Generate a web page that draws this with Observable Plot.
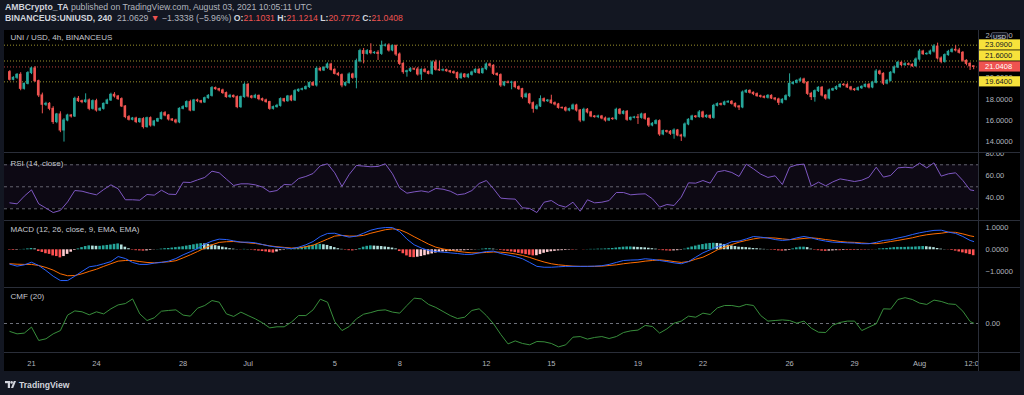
<!DOCTYPE html>
<html><head><meta charset="utf-8">
<script src="https://cdn.jsdelivr.net/npm/d3@7"></script>
<script src="https://cdn.jsdelivr.net/npm/@observablehq/plot@0.6"></script>
<style>
html,body{margin:0;padding:0;background:#131722;}
body{width:1024px;height:395px;overflow:hidden;position:relative;font-family:"Liberation Sans",Arial,sans-serif;}
.hdr{position:absolute;left:5px;white-space:nowrap;font-size:8.7px;line-height:10px;color:#b2b5be;}
.hdr b{color:#d1d4dc;}
.red{color:#ef5350;}
#chart{position:absolute;left:4px;top:30px;width:1016px;height:341px;background:#000;overflow:hidden;}
.pane{position:absolute;left:0;}
.sep{position:absolute;left:0;width:1016px;height:1px;background:#2a2e39;}
.vsep{position:absolute;left:974px;top:0;width:1px;height:341px;background:#2a2e39;}
#logo{position:absolute;left:5px;top:379px;height:11px;display:flex;align-items:center;gap:3px;color:#d1d4dc;font-weight:bold;font-size:8.6px;}
</style></head>
<body>
<div class="hdr" style="top:1.5px"><b>AMBCrypto_TA</b> published on TradingView.com, August 03, 2021 10:05:11 UTC</div>
<div class="hdr" style="top:13px"><b>BINANCEUS:UNIUSD, 240</b>&nbsp; 21.0629 <span class="red">&#9660;</span> &minus;1.3338 (&minus;5.96%) <b>O:</b><span class="red">21.1031</span> <b>H:</b><span class="red">21.1214</span> <b>L:</b><span class="red">20.7772</span> <b>C:</b><span class="red">21.0408</span></div>
<div id="chart"></div>
<div id="logo"><svg width="11" height="7" viewBox="0 0 11 7"><rect x="0" y="0" width="5" height="2.2" fill="#d1d4dc"/><rect x="2.8" y="0" width="2.2" height="7" fill="#d1d4dc"/><circle cx="6.6" cy="1.4" r="1.3" fill="#d1d4dc"/><polygon points="8.8,0 11,0 8.2,7 6,7" fill="#d1d4dc"/></svg><span>TradingView</span></div>
<script>
// ---------------- DATA ----------------
const firstOpen = 20.55;
const closes = [
19.83,20.02,20.30,18.98,19.45,20.46,20.90,19.70,18.36,17.48,
17.57,17.10,15.85,16.57,15.06,16.00,16.47,16.38,18.04,17.82,
17.73,17.89,17.10,17.82,16.94,17.10,17.57,17.89,18.42,18.26,
18.01,17.32,16.32,16.07,16.19,15.85,16.13,15.38,16.22,15.53,
15.91,16.13,16.69,16.47,16.10,16.00,15.82,17.10,17.26,17.73,
16.94,17.89,17.82,17.70,18.10,18.32,19.05,18.95,18.83,18.58,
18.20,18.32,18.20,17.26,18.20,19.36,18.26,18.14,18.32,18.01,
17.89,17.73,17.10,17.26,17.38,18.01,17.82,18.26,17.89,18.76,
18.89,18.95,19.14,19.52,19.30,20.86,20.71,20.96,21.27,20.77,
20.39,20.27,19.30,19.52,20.33,20.02,21.58,22.53,22.27,22.53,
22.34,22.37,22.27,23.03,23.06,22.59,23.00,22.21,21.33,20.55,
20.64,20.83,20.80,20.33,20.77,20.58,20.39,21.46,20.77,20.71,
20.74,20.64,20.55,20.46,19.99,20.33,20.08,20.30,20.52,20.77,
20.46,20.83,21.27,21.15,20.39,20.27,19.30,19.58,19.55,19.58,
19.14,18.95,18.20,18.45,17.63,17.10,17.32,18.01,17.82,17.88,
17.63,17.51,17.19,17.16,16.94,17.07,17.41,16.94,16.00,17.01,
16.76,16.38,16.32,16.38,16.19,16.00,16.16,16.13,17.01,16.63,
16.82,16.07,16.25,16.29,16.25,16.57,16.16,15.53,15.69,15.94,
14.69,15.00,14.94,14.75,15.06,14.59,14.50,15.63,16.07,16.38,
16.32,16.76,16.32,16.44,16.25,17.38,17.54,17.48,17.70,17.76,
17.57,17.32,17.23,18.64,18.79,18.61,18.48,18.29,18.23,18.14,
18.32,18.07,17.98,17.67,17.95,18.29,19.45,19.55,19.73,19.86,
19.55,18.51,18.20,18.76,19.08,18.35,18.07,18.83,18.95,19.14,
19.36,19.33,19.11,18.92,18.86,19.04,19.17,19.36,19.11,19.55,
20.61,20.39,19.48,19.73,20.49,20.99,21.43,21.21,21.30,21.24,
21.11,21.74,22.49,22.24,22.27,22.49,22.96,21.84,21.52,22.15,
22.46,22.65,22.59,22.37,21.62,21.33,21.10,21.04];
const wickUp = [
0.15,0.10,0.12,0.20,0.08,0.14,0.12,0.18,0.10,0.22,
0.15,0.12,0.20,0.10,0.25,0.18,0.12,0.10,0.16,0.22,
0.10,0.62,0.14,0.12,0.18,0.10,0.08,0.12,0.15,0.20,
0.10,0.12,0.08,0.15,0.10,0.12,0.08,0.14,0.10,0.12,
0.10,0.08,0.12,0.15,0.10,0.08,0.12,0.10,0.14,0.12,
0.18,0.10,0.12,0.08,0.10,0.12,0.15,0.10,0.08,0.12,
0.10,0.14,0.08,0.12,0.10,0.18,0.12,0.10,0.15,0.08,
0.10,0.12,0.08,0.10,0.14,0.12,0.08,0.10,0.12,0.15,
0.08,0.10,0.12,0.10,0.14,0.18,0.12,0.10,0.15,0.12,
0.10,0.14,0.12,0.10,0.16,0.12,0.20,0.18,0.25,0.15,
0.69,0.12,0.20,0.44,0.15,0.16,0.12,0.10,0.15,0.12,
0.10,0.14,0.12,0.18,0.10,0.12,0.08,0.15,0.22,0.81,
0.12,0.10,0.08,0.12,0.10,0.14,0.08,0.10,0.12,0.10,
0.12,0.10,0.15,0.13,0.10,0.08,0.12,0.10,0.14,0.12,
0.10,0.12,0.08,0.14,0.10,0.12,0.18,0.31,0.12,0.10,
0.50,0.12,0.10,0.08,0.12,0.10,0.14,0.12,0.10,0.15,
0.12,0.10,0.08,0.12,0.10,0.14,0.08,0.10,0.15,0.12,
0.10,0.12,0.08,0.10,0.28,0.12,0.10,0.08,0.12,0.14,
0.12,0.10,0.08,0.12,0.16,0.10,0.12,0.14,0.10,0.12,
0.08,0.18,0.12,0.10,0.08,0.14,0.12,0.10,0.12,0.10,
0.12,0.08,0.10,0.14,0.12,0.10,0.08,0.12,0.10,0.08,
0.12,0.10,0.08,0.12,0.10,0.14,0.94,0.12,0.10,0.15,
0.12,0.10,0.14,0.12,0.10,0.12,0.08,0.14,0.10,0.12,
0.10,0.12,0.19,0.10,0.08,0.12,0.10,0.08,0.12,0.14,
0.18,0.12,0.10,0.14,0.12,0.15,0.12,0.10,0.14,0.12,
0.10,0.15,0.20,0.12,0.10,0.14,0.18,0.32,0.15,0.12,
0.14,0.15,0.41,0.20,0.12,0.10,0.12,0.02];
const wickDown = [
0.12,0.10,0.15,0.18,0.12,0.10,0.14,0.12,0.20,0.85,
0.15,0.18,0.22,0.15,0.20,1.09,0.12,0.15,0.10,0.12,
0.15,0.10,0.18,0.12,0.15,0.10,0.12,0.08,0.10,0.15,
0.12,0.10,0.15,0.12,0.10,0.14,0.12,0.18,0.10,0.15,
0.12,0.10,0.08,0.12,0.15,0.10,0.14,0.12,0.10,0.08,
0.12,0.10,0.14,0.12,0.08,0.10,0.12,0.10,0.14,0.12,
0.10,0.12,0.10,0.15,0.12,0.10,0.14,0.12,0.10,0.15,
0.12,0.10,0.14,0.12,0.10,0.12,0.14,0.10,0.12,0.10,
0.12,0.10,0.08,0.12,0.10,0.15,0.12,0.10,0.14,0.12,
0.10,0.14,0.22,0.12,0.10,0.14,1.04,0.15,0.94,0.12,
0.15,0.12,0.62,0.14,0.12,0.15,0.12,0.18,0.15,0.20,
0.47,0.12,0.10,0.15,0.56,0.12,0.10,0.14,0.12,0.10,
0.12,0.10,0.14,0.12,0.18,0.12,0.10,0.14,0.12,0.10,
0.12,0.10,0.14,0.12,0.15,0.12,0.18,0.12,0.10,0.66,
0.15,0.12,0.18,0.12,0.15,0.41,0.12,0.10,0.14,0.12,
0.10,0.14,0.12,0.10,0.14,0.12,0.10,0.15,0.20,0.12,
0.14,0.12,0.10,0.14,0.12,0.15,0.10,0.12,0.14,0.12,
0.10,0.15,0.12,0.10,0.62,0.12,0.14,0.18,0.12,0.10,
0.18,0.12,0.14,0.15,0.51,0.12,0.47,0.15,0.12,0.10,
0.12,0.10,0.14,0.12,0.15,0.12,0.10,0.12,0.10,0.08,
0.12,0.14,0.29,0.12,0.10,0.12,0.14,0.10,0.12,0.10,
0.12,0.10,0.14,0.26,0.12,0.10,0.14,0.12,0.10,0.12,
0.14,0.15,0.32,0.47,0.12,0.14,0.15,0.12,0.10,0.12,
0.10,0.12,0.10,0.14,0.12,0.10,0.12,0.10,0.14,0.12,
0.10,0.14,0.18,0.12,0.10,0.12,0.10,0.14,0.12,0.10,
0.12,0.10,0.14,0.12,0.10,0.12,0.14,0.15,0.18,0.12,
0.10,0.12,0.14,0.12,0.15,0.18,0.39,0.26];
// price levels drawn on the chart
const levelLines = [23.09, 21.60, 19.64];
const lastPrice = 21.0408;
const priceTicks = [14, 16, 18, 20, 24];
// indicators: sampled every second candle, plus the last candle
const rsi = [
35.4,34.5,41.5,47.2,34.5,30.6,26.6,28.5,36.3,46.6,
46.0,44.2,42.7,47.5,51.8,48.2,38.2,38.2,37.8,43.0,
42.4,46.9,43.3,43.0,54.2,53.9,56.3,58.5,64.2,62.7,
56.9,51.2,52.7,52.7,51.8,49.7,45.4,46.6,52.1,51.8,
57.5,59.4,62.1,69.1,70.9,62.7,50.3,61.2,69.4,68.8,
68.2,68.5,70.9,61.8,48.8,44.2,45.4,46.3,45.1,48.5,
47.8,46.0,42.7,43.6,46.6,53.0,55.7,48.2,39.7,39.1,
38.8,30.9,30.3,26.6,36.0,37.5,33.3,31.5,36.0,27.8,
38.2,35.4,36.0,37.5,44.8,44.8,42.7,43.3,43.6,39.1,
31.5,33.9,33.0,40.6,53.6,53.3,55.7,53.3,63.6,64.8,
63.0,59.4,70.6,66.3,61.5,58.5,60.0,52.1,67.8,70.0,
70.6,50.6,54.2,50.9,54.5,57.2,56.0,54.8,56.0,58.8,
67.8,58.8,60.3,67.2,67.8,67.2,71.5,67.2,71.8,59.7,
61.8,62.7,55.7,47.2,46.6];
const rsiLevels = [70, 50, 30];
const rsiTicks = [40, 60, 80];
const macd = [
-0.66,-0.75,-0.69,-0.57,-0.72,-0.95,-1.21,-1.41,-1.41,-1.21,
-0.99,-0.78,-0.73,-0.64,-0.54,-0.31,-0.40,-0.58,-0.67,-0.67,
-0.61,-0.58,-0.52,-0.40,-0.23,-0.09,0.06,0.26,0.40,0.49,
0.47,0.41,0.35,0.35,0.32,0.24,0.17,0.12,0.09,0.05,
0.12,0.23,0.38,0.61,0.75,0.76,0.66,0.58,0.63,0.76,
0.90,0.98,1.02,1.02,0.83,0.49,0.23,0.08,-0.03,-0.08,
-0.11,-0.14,-0.17,-0.21,-0.21,-0.14,-0.08,-0.06,-0.17,-0.24,
-0.31,-0.41,-0.58,-0.76,-0.80,-0.80,-0.78,-0.76,-0.76,-0.76,
-0.76,-0.75,-0.73,-0.67,-0.58,-0.49,-0.47,-0.46,-0.41,-0.44,
-0.49,-0.54,-0.60,-0.64,-0.54,-0.34,-0.14,0.00,0.15,0.23,
0.37,0.40,0.50,0.61,0.58,0.54,0.47,0.43,0.46,0.55,
0.61,0.55,0.46,0.40,0.35,0.34,0.32,0.31,0.28,0.28,
0.34,0.43,0.46,0.54,0.61,0.70,0.78,0.84,0.89,0.90,
0.81,0.75,0.61,0.43,0.38];
const signal = [
-0.64,-0.66,-0.67,-0.67,-0.72,-0.81,-0.93,-1.10,-1.19,-1.18,
-1.10,-0.99,-0.89,-0.76,-0.64,-0.52,-0.49,-0.49,-0.54,-0.58,
-0.60,-0.57,-0.55,-0.50,-0.37,-0.23,-0.08,0.08,0.23,0.34,
0.37,0.38,0.35,0.32,0.29,0.24,0.18,0.14,0.11,0.08,
0.09,0.14,0.21,0.35,0.49,0.63,0.66,0.63,0.63,0.66,
0.76,0.84,0.92,0.96,0.92,0.78,0.60,0.43,0.26,0.12,
0.04,-0.02,-0.07,-0.11,-0.14,-0.14,-0.12,-0.10,-0.11,-0.14,
-0.19,-0.26,-0.35,-0.46,-0.56,-0.64,-0.69,-0.72,-0.75,-0.76,
-0.76,-0.76,-0.75,-0.72,-0.69,-0.64,-0.60,-0.57,-0.52,-0.49,
-0.46,-0.49,-0.54,-0.58,-0.54,-0.43,-0.34,-0.18,0.00,0.12,
0.24,0.35,0.43,0.50,0.55,0.55,0.54,0.50,0.47,0.49,
0.52,0.55,0.52,0.47,0.43,0.38,0.35,0.34,0.31,0.29,
0.28,0.32,0.38,0.43,0.49,0.55,0.63,0.69,0.73,0.76,
0.81,0.80,0.73,0.64,0.61];
// MACD histogram, one bar per candle
const hist = [
-0.02,-0.03,-0.02,0.01,0.02,0.04,0.06,0.04,
-0.08,-0.12,-0.18,-0.21,-0.28,-0.31,-0.37,-0.31,-0.21,-0.11,-0.03,
0.04,0.10,0.15,0.18,0.17,0.16,0.16,0.18,0.20,0.22,0.25,0.27,0.22,0.12,0.05,
-0.02,-0.04,-0.05,-0.06,-0.05,-0.03,-0.01,0.01,
0.03,0.05,0.06,0.08,0.10,0.12,
0.14,0.17,0.20,0.23,0.26,0.28,0.27,0.25,0.22,0.19,0.16,0.12,0.09,0.05,0.03,
0.01,-0.01,0.02,0.01,
-0.02,-0.04,-0.06,-0.08,-0.10,-0.13,-0.15,-0.10,
-0.04,-0.02,0.01,0.03,0.05,
0.07,0.10,0.14,0.18,0.21,0.24,0.25,0.23,0.20,0.15,0.10,0.05,0.02,
-0.02,-0.04,-0.05,-0.02,
0.05,0.12,0.16,0.18,0.17,0.16,0.15,0.13,0.11,0.08,0.04,
-0.08,-0.18,-0.28,-0.35,-0.36,-0.34,-0.31,-0.27,-0.23,-0.19,-0.15,-0.12,-0.10,
-0.09,-0.08,-0.07,-0.06,-0.05,-0.04,-0.03,-0.02,-0.01,0.01,
0.03,0.05,0.05,0.03,0.01,
-0.03,-0.05,-0.07,-0.10,
-0.13,-0.16,-0.19,-0.22,-0.25,-0.28,-0.27,-0.22,
-0.16,-0.12,-0.09,-0.07,-0.05,-0.04,-0.03,-0.02,-0.02,-0.01,
0.00,-0.01,0.01,
0.02,0.02,0.03,0.03,0.04,0.05,0.06,0.08,
0.10,0.12,0.13,0.13,0.12,0.11,0.10,0.09,0.07,0.05,0.03,
-0.02,-0.04,-0.05,-0.06,-0.05,-0.04,-0.02,
0.03,0.08,0.13,0.17,0.21,0.24,0.27,0.29,0.30,0.29,0.27,0.24,0.21,0.18,0.15,0.12,0.11,0.10,0.08,0.06,0.05,0.03,0.02,0.01,
-0.02,-0.03,-0.05,-0.06,-0.05,-0.03,
0.04,0.09,0.12,0.12,0.10,
0.03,-0.02,-0.04,-0.06,-0.07,-0.06,-0.05,-0.04,-0.04,-0.03,-0.03,-0.03,-0.03,-0.02,-0.02,-0.02,-0.01,-0.01,0.01,
0.04,0.05,0.06,0.08,0.10,0.11,0.11,0.11,0.12,0.12,0.13,0.14,0.15,0.14,0.12,0.10,
0.06,0.03,0.01,-0.01,
-0.03,-0.06,-0.10,-0.14,-0.18,-0.22,-0.27];
const macdTicks = [-1, 0, 1];
const cmf = [
-0.053,-0.069,-0.064,-0.024,-0.113,-0.102,-0.069,-0.047,0.056,0.084,
0.078,0.058,0.078,0.064,0.098,0.124,0.133,0.164,0.064,0.020,
0.038,0.082,0.087,0.091,0.056,0.049,0.102,0.120,0.153,0.142,
0.064,0.047,0.076,0.053,0.031,0.004,-0.029,-0.022,-0.022,0.009,
0.053,0.053,0.091,0.162,0.142,0.013,-0.047,-0.020,0.031,0.062,
0.073,0.087,0.091,0.076,0.069,0.120,0.169,0.164,0.127,0.107,
0.080,0.053,0.033,0.042,0.087,0.098,0.053,-0.002,-0.073,-0.136,
-0.116,-0.133,-0.142,-0.120,-0.122,-0.133,-0.156,-0.142,-0.091,-0.087,
-0.104,-0.093,-0.087,-0.100,-0.087,-0.060,-0.049,-0.044,-0.013,-0.020,
-0.064,-0.036,0.002,0.016,0.049,0.042,0.069,0.060,0.104,0.120,
0.120,0.111,0.127,0.120,0.053,0.016,0.020,0.024,0.020,0.002,
0.016,-0.031,-0.058,-0.060,-0.011,0.007,0.016,0.016,-0.047,-0.024,
-0.002,0.098,0.096,0.160,0.172,0.160,0.136,0.127,0.156,0.147,
0.131,0.127,0.082,0.013,0.002];
const cmfTicks = [0];
const paneTitles = ["UNI / USD, 4h, BINANCEUS", "RSI (14, close)", "MACD (12, 26, close, 9, EMA, EMA)", "CMF (20)"];
const xTickDates = [
  Date.UTC(2021,5,21), Date.UTC(2021,5,24), Date.UTC(2021,5,28), Date.UTC(2021,6,1),
  Date.UTC(2021,6,5), Date.UTC(2021,6,8), Date.UTC(2021,6,12), Date.UTC(2021,6,15),
  Date.UTC(2021,6,19), Date.UTC(2021,6,22), Date.UTC(2021,6,26), Date.UTC(2021,6,29),
  Date.UTC(2021,7,1), Date.UTC(2021,7,3,12)].map(d => new Date(d));
const xTickLabels = ["21","24","28","Jul","5","8","12","15","19","22","26","29","Aug","12:00"];

// ---------------- BUILD ----------------
const UP = "#26a69a", DOWN = "#ef5350";
const H4 = 4 * 3600 * 1000, T0 = Date.UTC(2021, 5, 20);
const tAt = i => new Date(T0 + i * H4);
const xDomain = [tAt(-1.48), tAt(268.33)];
const FONT = '"Liberation Sans", Arial, sans-serif';

const n = Math.min(closes.length, wickUp.length, wickDown.length);
const candles = d3.range(n).map(i => {
  const o = i ? closes[i - 1] : firstOpen, c = closes[i];
  return {t: tAt(i), o, c, h: Math.max(o, c) + wickUp[i], l: Math.min(o, c) - wickDown[i], col: c >= o ? UP : DOWN};
});
const indIdx = d3.range(0, 267, 2).concat([267]);
const ind = indIdx.map((i, k) => ({t: tAt(i), rsi: rsi[k], macd: macd[k], signal: signal[k], cmf: cmf[k]}))
  .filter(d => d.rsi != null);
const histData = hist.map((v, i) => {
  const p = i ? hist[i - 1] : 0;
  const col = v >= 0 ? (v >= p ? "#26a69a" : "#b2dfdb") : (v > p ? "#ffcdd2" : "#ff5252");
  return {t: tAt(i), v, col};
});

function pane(height, yDomain, marks) {
  return Plot.plot({
    width: 1016, height, marginLeft: 0, marginRight: 42, marginTop: 0, marginBottom: 0,
    style: {background: "transparent", color: "#b2b5be", fontFamily: FONT, fontSize: "7.5px", overflow: "hidden"},
    x: {type: "utc", domain: xDomain, axis: null},
    y: {domain: yDomain},
    color: {type: "identity"},
    marks
  });
}
const title = (s, dy) => Plot.text([s], {frameAnchor: "top-left", dx: 6, dy, fill: "#c4c7cf", fontSize: 8, lineAnchor: "top"});
const bodyX1 = d => new Date(+d.t - 0.36 * H4), bodyX2 = d => new Date(+d.t + 0.36 * H4);

const pricePane = pane(122, [12.99, 24.47], [
  Plot.axisY({ticks: priceTicks, anchor: "right", tickSize: 0, tickPadding: 7, tickFormat: d => d.toFixed(4), label: null}),
  Plot.ruleY(levelLines, {stroke: "#c2b638", strokeOpacity: 0.8, strokeDasharray: "1,2"}),
  Plot.ruleY([lastPrice], {stroke: "#ef5350", strokeOpacity: 0.75, strokeDasharray: "1,2"}),
  Plot.ruleX(candles, {x: "t", y1: "l", y2: "h", stroke: "col", strokeWidth: 1}),
  Plot.rect(candles, {x1: bodyX1, x2: bodyX2, y1: d => Math.min(d.o, d.c), y2: d => Math.max(d.o, d.c), fill: "col", insetTop: -0.5, insetBottom: -0.5}),
  title(paneTitles[0], 3.5)
]);

const rsiPane = pane(67, [19.36, 80.27], [
  Plot.rect([rsiLevels], {x1: () => xDomain[0], x2: () => xDomain[1], y1: d => d3.min(d), y2: d => d3.max(d), fill: "#7e57c2", fillOpacity: 0.1}),
  Plot.ruleY(rsiLevels, {stroke: "#787b86", strokeOpacity: 0.8, strokeDasharray: "3,3"}),
  Plot.line(ind, {x: "t", y: "rsi", stroke: "#7e57c2", strokeWidth: 1}),
  Plot.axisY({ticks: rsiTicks, anchor: "right", tickSize: 0, tickPadding: 7, tickFormat: d => d.toFixed(2), label: null}),
  title(paneTitles[1], 6.5)
]);

const macdPane = pane(66, [-1.729, 1.298], [
  Plot.rect(histData, {x1: bodyX1, x2: bodyX2, y1: 0, y2: "v", fill: "col"}),
  Plot.line(ind, {x: "t", y: "signal", stroke: "#ff6d00", strokeWidth: 1}),
  Plot.line(ind, {x: "t", y: "macd", stroke: "#2962ff", strokeWidth: 1}),
  Plot.axisY({ticks: macdTicks, anchor: "right", tickSize: 0, tickPadding: 7, tickFormat: d => (d < 0 ? "\u2212" : "") + Math.abs(d).toFixed(4), label: null}),
  title(paneTitles[2], 5)
]);

const cmfPane = pane(64, [-0.1933, 0.2333], [
  Plot.ruleY(cmfTicks, {stroke: "#787b86", strokeOpacity: 0.9, strokeDasharray: "3,3"}),
  Plot.line(ind, {x: "t", y: "cmf", stroke: "#388e3c", strokeWidth: 1}),
  Plot.axisY({ticks: cmfTicks, anchor: "right", tickSize: 0, tickPadding: 7, tickFormat: d => d.toFixed(2), label: null}),
  title(paneTitles[3], 5)
]);

const xAxis = Plot.plot({
  width: 974, height: 18, marginLeft: 0, marginRight: 0, marginTop: 0, marginBottom: 17,
  style: {background: "transparent", color: "#b2b5be", fontFamily: FONT, fontSize: "7.5px", overflow: "hidden"},
  x: {type: "utc", domain: xDomain},
  marks: [Plot.axisX({ticks: xTickDates, tickSize: 0, tickPadding: 6, label: null,
    tickFormat: d => xTickLabels[xTickDates.findIndex(t => +t === +d)]})]
});

// price-axis badges (placed with the price scale)
const yS = pricePane.scale("y");
const badges = [
  {v: 23.09, txt: "23.0900", bg: "#f7e23b", fg: "#131722"},
  {v: 21.60, txt: "21.6000", bg: "#f7e23b", fg: "#131722"},
  {v: lastPrice, txt: "21.0408", bg: "#ef5350", fg: "#ffffff", fixed: true},
  {v: 19.64, txt: "19.6400", bg: "#f7e23b", fg: "#131722"}
].map(b => ({...b, y: yS.apply(b.v)}));
// resolve overlaps around the fixed (current price) badge
const BH = 10.2, GAP = 0.8;
const fixedIdx = badges.findIndex(b => b.fixed);
for (let i = fixedIdx - 1; i >= 0; i--) badges[i].y = Math.min(badges[i].y, badges[i + 1].y - BH - GAP);
for (let i = fixedIdx + 1; i < badges.length; i++) badges[i].y = Math.max(badges[i].y, badges[i - 1].y + BH + GAP);
const ps = d3.select(pricePane);
// USD badge over the top tick
const usd = ps.append("g");
usd.append("rect").attr("x", 987.5).attr("y", 2.5).attr("width", 16).attr("height", 9).attr("rx", 1.5)
  .attr("fill", "#131722").attr("stroke", "#5d606b").attr("stroke-width", 0.7);
usd.append("text").attr("x", 995.5).attr("y", 7).attr("text-anchor", "middle").attr("dy", "0.35em")
  .attr("fill", "#d1d4dc").attr("font-size", 6.2).text("USD");
for (const b of badges) {
  const g = ps.append("g");
  g.append("rect").attr("x", 975).attr("y", b.y - BH / 2).attr("width", 41).attr("height", BH).attr("fill", b.bg);
  g.append("text").attr("x", 981).attr("y", b.y).attr("dy", "0.35em").attr("text-anchor", "start")
    .attr("fill", b.fg).attr("font-size", 7.5).text(b.txt);
}

// assemble
const chart = document.getElementById("chart");
const place = (el, top) => { el.classList.add("pane"); el.style.top = top + "px"; chart.appendChild(el); };
place(pricePane, 0);
place(rsiPane, 123);
place(macdPane, 191);
place(cmfPane, 258);
place(xAxis, 323);
for (const y of [122, 190, 257, 322]) { const s = document.createElement("div"); s.className = "sep"; s.style.top = y + "px"; chart.appendChild(s); }
const v = document.createElement("div"); v.className = "vsep"; chart.appendChild(v);
</script>
</body></html>
